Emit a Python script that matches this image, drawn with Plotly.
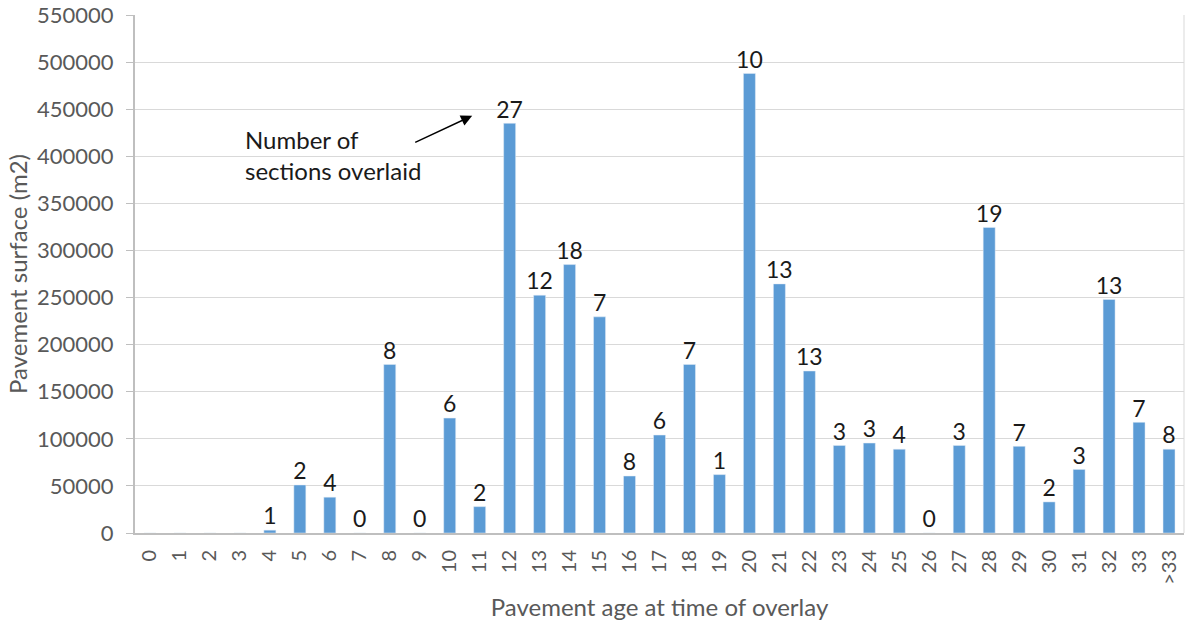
import plotly.graph_objects as go

categories = [str(i) for i in range(34)] + [">33"]
surface = [0, 0, 0, 0, 3000, 51000, 38000, 0, 179000, 0, 122000, 28000, 435000, 252500,
           285000, 229500, 60500, 104000, 179000, 62000, 488000, 264500, 172000, 93000,
           95500, 89000, 0, 93000, 324500, 92000, 33000, 67500, 248000, 117500, 89000]
sections = ["", "", "", "", "1", "2", "4", "0", "8", "0", "6", "2", "27", "12", "18", "7",
            "8", "6", "7", "1", "10", "13", "13", "3", "3", "4", "0", "3", "19", "7", "2",
            "3", "13", "7", "8"]
y_ticks = list(range(0, 550001, 50000))

FONT = "Lato"
GRAY = "#595959"

fig = go.Figure()
fig.add_trace(go.Bar(x=categories, y=surface, marker_color="#5B9BD5", width=0.4,
                     hoverinfo="x+y"))
fig.add_trace(go.Scatter(x=categories, y=surface, mode="text", text=sections,
                         textposition="top center", cliponaxis=False,
                         textfont=dict(family=FONT, size=23, color="#1a1a1a"),
                         hoverinfo="skip"))

fig.add_annotation(x=10.75, y=443000, ax=8.8, ay=414000, xref="x", yref="y",
                   axref="x", ayref="y", text="", showarrow=True, arrowhead=2,
                   arrowsize=1.6, arrowwidth=1.4, arrowcolor="#000000")
fig.add_annotation(x=3.1, y=401000, xref="x", yref="y", xanchor="left", yanchor="middle",
                   align="left", showarrow=False,
                   text="Number of<br>sections overlaid",
                   font=dict(family=FONT, size=24, color="#1a1a1a"))

fig.update_layout(
    width=1186, height=628,
    margin=dict(l=135, r=2, t=15, b=95),
    paper_bgcolor="white", plot_bgcolor="white",
    showlegend=False,
    font=dict(family=FONT, color=GRAY),
    xaxis=dict(type="category", tickangle=-90, tickfont=dict(size=20, color=GRAY),
               showline=True, linecolor="#BFBFBF", linewidth=2, ticks="",
               ticklabelstandoff=7,
               title=dict(text="Pavement age at time of overlay",
                          font=dict(size=24, color=GRAY), standoff=15),
               range=[-0.5, 34.5]),
    yaxis=dict(range=[0, 550000], tickvals=y_ticks, ticktext=[str(v) for v in y_ticks],
               tickfont=dict(size=22, color=GRAY), showgrid=True, gridcolor="#D9D9D9",
               gridwidth=1, showline=True, linecolor="#BFBFBF", linewidth=2, zeroline=False,
               ticks="outside", ticklen=7, tickcolor="#BFBFBF", ticklabelstandoff=8,
               title=dict(text="Pavement surface (m2)", font=dict(size=24, color=GRAY),
                          standoff=3)),
)
fig.add_shape(type="line", xref="paper", yref="paper", x0=1, x1=1, y0=0, y1=1,
              line=dict(color="#D9D9D9", width=1))

fig.write_html("out.html")
